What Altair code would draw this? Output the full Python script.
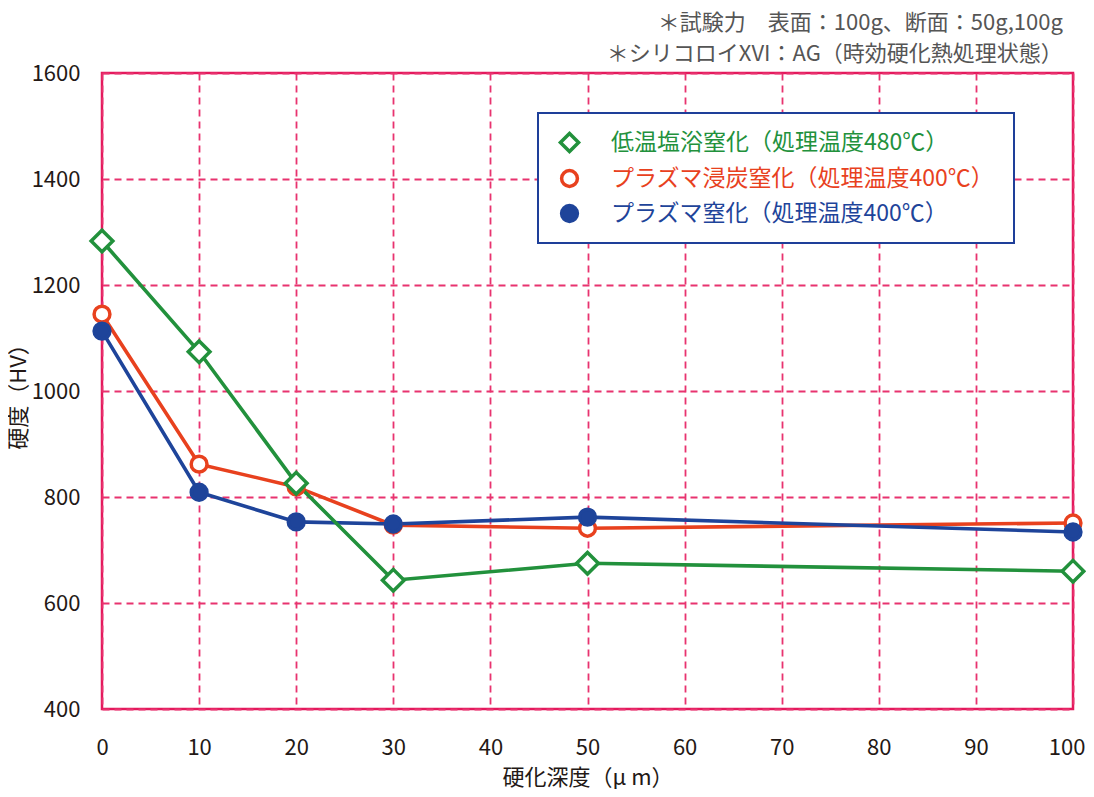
import altair as alt
import pandas as pd

FONT = "Noto Sans CJK JP"

depth = [0, 10, 20, 30, 50, 100]
series_names = [
    "低温塩浴窒化（処理温度480℃）",
    "プラズマ浸炭窒化（処理温度400℃）",
    "プラズマ窒化（処理温度400℃）",
]
green_vals = [1283, 1074, 826, 643, 675, 660]
red_vals = [1145, 862, 819, 747, 741, 751]
blue_vals = [1113, 809, 753, 749, 762, 734]
values_by_series = [green_vals, red_vals, blue_vals]

colors = ["#22913C", "#E8411E", "#1E449A"]
fills = ["white", "white", "#1E449A"]
shapes = ["diamond", "circle", "circle"]
sizes = [470, 250, 250]
legend_symbol_sizes = [330, 250, 250]

x_ticks = [0, 10, 20, 30, 40, 50, 60, 70, 80, 90, 100]
y_ticks = [400, 600, 800, 1000, 1200, 1400, 1600]

note_lines = [
    "＊試験力　表面：100g、断面：50g,100g",
    "＊シリコロイXVI：AG（時効硬化熱処理状態）",
]

# legend placement (pixels inside the plot area)
legend_x = 456
legend_ys = [58, 94, 129]
box = {"x": 436, "x2": 912, "y": 40, "y2": 170}

x_enc = alt.X(
    "depth:Q",
    scale=alt.Scale(domain=[0, 100], nice=False),
    axis=alt.Axis(
        values=x_ticks,
        title="硬化深度（μ m）",
        format="d",
        labelFlush=False,
        labelAlign={"condition": {"test": "datum.value == 100", "value": "right"}, "value": "center"},
        labelOffset={"condition": {"test": "datum.value == 100", "value": 12}, "value": 0},
    ),
)
y_enc = alt.Y(
    "hardness:Q",
    scale=alt.Scale(domain=[400, 1600], nice=False, zero=False),
    axis=alt.Axis(values=y_ticks, title="硬度（HV）", format="d"),
)

frames = []
for name, vals in zip(series_names, values_by_series):
    frames.append(pd.DataFrame({"depth": depth, "hardness": vals, "series": [name] * len(depth)}))

box_layer = alt.Chart(pd.DataFrame({"k": [0]})).mark_rect(
    fill="white", stroke="#1E3F99", strokeWidth=2
).encode(
    x=alt.value(box["x"]), x2=alt.value(box["x2"]),
    y=alt.value(box["y"]), y2=alt.value(box["y2"]),
)

draw_order = [1, 2, 0]  # red, blue, green (green on top)

line_layers = []
for i in draw_order:
    line_layers.append(
        alt.Chart(frames[i]).mark_line(strokeWidth=3.6, stroke=colors[i]).encode(x=x_enc, y=y_enc)
    )

point_layers = []
for i in draw_order:
    leg = alt.Legend(
        title=None,
        orient="none",
        legendX=legend_x,
        legendY=legend_ys[i],
        padding=0,
        labelOffset=30,
        labelFontSize=23,
        labelFont=FONT,
        labelLimit=600,
        labelColor=colors[i],
        symbolSize=legend_symbol_sizes[i],
        symbolStrokeWidth=3.5,
    )
    dom = [series_names[i]]
    point_layers.append(
        alt.Chart(frames[i]).mark_point(strokeWidth=3.5, opacity=1, fillOpacity=1, size=sizes[i]).encode(
            x=x_enc,
            y=y_enc,
            stroke=alt.Stroke("series:N", scale=alt.Scale(domain=dom, range=[colors[i]]), legend=leg),
            fill=alt.Fill("series:N", scale=alt.Scale(domain=dom, range=[fills[i]]), legend=leg),
            shape=alt.Shape("series:N", scale=alt.Scale(domain=dom, range=[shapes[i]]), legend=leg),
        )
    )

chart = (
    alt.layer(box_layer, *line_layers, *point_layers)
    .resolve_scale(stroke="independent", fill="independent", shape="independent")
    .properties(
        width=971,
        height=636,
        autosize=alt.AutoSizeParams(type="none"),
        padding={"left": 94, "top": 65, "right": 13, "bottom": 80},
        title=alt.TitleParams(
            text=note_lines,
            anchor="end",
            align="right",
            font=FONT,
            fontSize=22,
            fontWeight="normal",
            color="#555555",
            lineHeight=31,
            offset=-4,
            dx=-28,
        ),
    )
    .configure_view(stroke="#E4185C", strokeWidth=2.5)
    .configure_axis(
        domain=False,
        ticks=False,
        tickSize=0,
        grid=True,
        gridColor="#E8336F",
        gridDash=[7, 5],
        gridWidth=1.8,
        labelFont=FONT,
        labelFontSize=22,
        labelColor="#231815",
        titleFont=FONT,
        titleFontSize=22,
        titleFontWeight="normal",
        titleColor="#231815",
    )
    .configure_axisX(labelPadding=28, titlePadding=9)
    .configure_axisY(labelPadding=22, titlePadding=1)
)

chart.save("out.html", embed_options={"renderer": "svg", "actions": False})
